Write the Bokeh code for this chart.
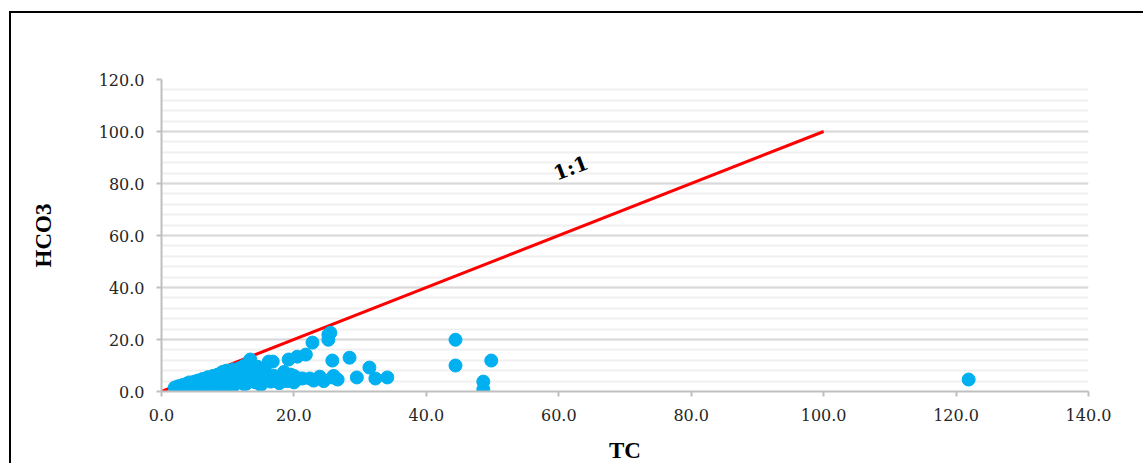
from bokeh.plotting import figure
from bokeh.models import SingleIntervalTicker, NumeralTickFormatter, Range1d
from bokeh.core.properties import value
from bokeh.embed import file_html
from bokeh.resources import INLINE

# Data: TC vs HCO3 samples
tc = [2.0, 2.5, 3.0, 3.2, 3.5, 3.8, 4.0, 4.2, 4.5, 4.8, 5.0, 5.2, 5.5, 5.8, 6.0, 6.2, 6.5, 6.8,
      7.0, 7.2, 7.5, 7.8, 8.0, 8.2, 8.5, 8.8, 9.0, 9.2, 9.5, 9.8, 10.0, 10.2, 10.5, 10.8, 11.0,
      11.2, 11.5, 11.8, 12.0, 12.2, 12.5, 12.8, 13.0, 13.2, 13.4, 13.6, 14.0, 14.2, 14.5, 14.8,
      15.0, 15.3, 15.6, 16.0, 16.2, 16.5, 16.8, 17.0, 17.5, 18.0, 18.5, 19.0, 19.2, 19.5, 20.0,
      20.5, 20.8, 21.8, 22.4, 22.8, 23.9, 25.2, 25.2, 25.5, 25.8, 25.8, 26.6, 28.4, 29.5, 31.4,
      32.3, 34.1, 44.4, 44.4, 49.8, 48.6, 48.6, 121.9, 6.0, 9.0, 11.0, 14.5, 17.8, 21.3, 23.0,
      3.0, 5.5, 8.5, 10.5, 12.5, 15.0, 18.5, 20.0, 24.5, 26.0]
hco3 = [1.5, 2.0, 1.8, 2.5, 1.2, 3.0, 2.2, 3.5, 1.5, 2.8, 3.8, 2.0, 4.2, 3.0, 1.8, 4.8, 3.5, 2.5,
        5.5, 4.0, 2.0, 6.0, 3.2, 4.8, 6.5, 2.5, 5.5, 7.5, 3.8, 8.0, 4.5, 2.0, 6.0, 8.5, 3.5,
        5.0, 7.0, 9.0, 4.2, 6.2, 10.0, 3.0, 5.5, 8.0, 12.3, 4.5, 6.8, 3.5, 9.5, 5.0,
        7.0, 4.0, 8.5, 5.5, 11.5, 3.8, 11.5, 6.0, 4.5, 5.0, 7.5, 4.0, 12.3, 6.5, 3.5,
        13.4, 5.0, 14.2, 5.0, 18.8, 5.7, 21.9, 19.9, 22.6, 11.9, 5.4, 4.6, 13.0, 5.4, 9.2,
        5.0, 5.4, 19.9, 10.0, 11.9, 3.8, 0.8, 4.6, 3.0, 2.0, 2.5, 4.0, 3.2, 5.0, 4.2,
        1.2, 2.2, 1.5, 1.8, 2.8, 2.5, 4.2, 6.0, 4.0, 6.0]
line_x = [0, 100]
line_y = [0, 100]
label_text = ["1:1"]
label_x = [61.8]
label_y = [86.0]

tick_font = "DejaVu Serif"
title_font = "Liberation Serif"

p = figure(width=1134, height=452, output_backend="svg", toolbar_location=None,
           x_range=Range1d(0, 140), y_range=Range1d(0, 120),
           min_border_left=150, min_border_right=57, min_border_top=66, min_border_bottom=73)
p.styles = {"border-left": "2px solid black", "border-top": "2px solid black",
            "margin-left": "9px", "margin-top": "11px"}
p.outline_line_color = None
p.background_fill_color = "white"
p.border_fill_color = "white"

p.line(line_x, line_y, line_color="#FF0000", line_width=3)
p.scatter(tc, hco3, size=13, fill_color="#00B0F0", line_color="#00B0F0")
p.text(label_x, label_y, text=label_text, angle=0.36, text_align="center",
       text_baseline="middle", text_font=value("DejaVu Serif"), text_font_style="bold",
       text_font_size="20px", text_color="black")

p.xaxis.ticker = SingleIntervalTicker(interval=20, num_minor_ticks=0)
p.yaxis.ticker = SingleIntervalTicker(interval=20, num_minor_ticks=5)
for ax in (p.xaxis[0], p.yaxis[0]):
    ax.formatter = NumeralTickFormatter(format="0.0")
    ax.axis_line_color = "#BFBFBF"
    ax.axis_line_width = 2
    ax.major_tick_line_color = "#BFBFBF"
    ax.major_tick_line_width = 2
    ax.major_tick_out = 5
    ax.major_tick_in = 0
    ax.minor_tick_line_color = None
    ax.major_label_text_font = tick_font
    ax.major_label_text_font_size = "16px"
    ax.major_label_text_color = "#262626"
    ax.axis_label_text_font = title_font
    ax.axis_label_text_font_style = "bold"
    ax.axis_label_text_font_size = "23px"
    ax.axis_label_text_line_height = 1.0
    ax.axis_label_text_color = "black"

p.xaxis.axis_label = "TC"
p.yaxis.axis_label = "HCO3"
p.xaxis.major_label_standoff = 12
p.yaxis.major_label_standoff = 12
p.xaxis.axis_label_standoff = 14
p.yaxis.axis_label_standoff = 40

p.xgrid.grid_line_color = None
p.ygrid.grid_line_color = "#D9D9D9"
p.ygrid.grid_line_width = 2
p.ygrid.minor_grid_line_color = "#F0F0F0"
p.ygrid.minor_grid_line_width = 2

open("out.html", "w").write(file_html(p, INLINE))
